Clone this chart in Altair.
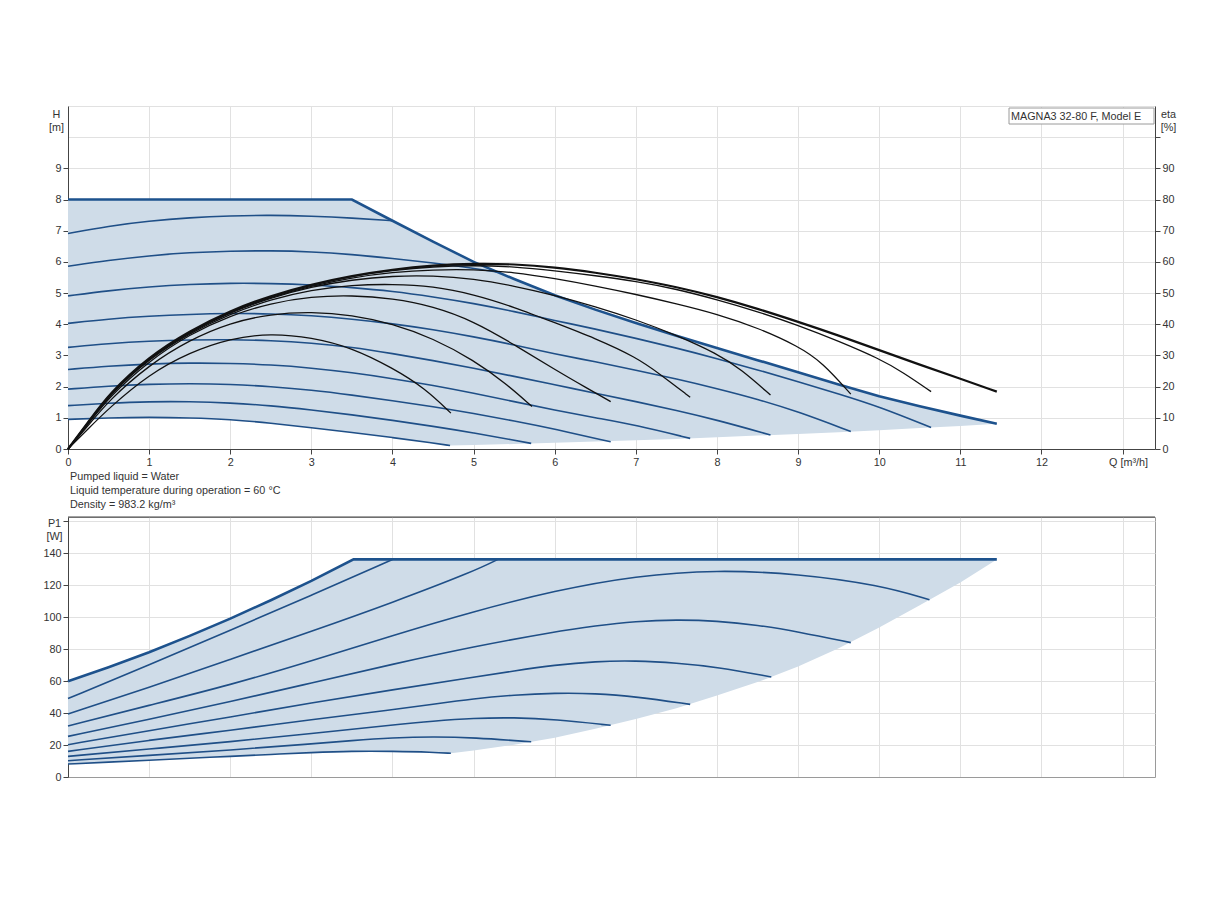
import altair as alt
import pandas as pd

FONT = "Liberation Sans"
FS = 10.8
TXT = "#333333"
BLUE = "#1f4f87"
BLUE_MAX = "#1d528d"
FILL = "#cfdce8"
GRID = "#e1e1e1"
AXIS = "#444444"
CURVE_INTERP = "basis"

# ---------------- tick values / texts ----------------
Q_TICKS = [0, 1, 2, 3, 4, 5, 6, 7, 8, 9, 10, 11, 12, 13]
H_TICKS = [0, 1, 2, 3, 4, 5, 6, 7, 8, 9, 10, 11]
ETA_TICKS = [0, 10, 20, 30, 40, 50, 60, 70, 80, 90, 100, 110]
P_TICKS = [0, 20, 40, 60, 80, 100, 120, 140, 160]
Q_TITLE = "Q [m³/h]"
H_TITLE = ["H", "[m]"]
ETA_TITLE = ["eta", "[%]"]
P_TITLE = ["P1", "[W]"]
LEGEND_TEXT = "MAGNA3 32-80 F, Model E"
NOTES = ["Pumped liquid = Water",
         "Liquid temperature during operation = 60 °C",
         "Density = 983.2 kg/m³"]

# ---------------- H(Q) operating range ----------------
ENV_Q = [0, 0.5, 1, 1.5, 2, 2.5, 3, 3.5, 4, 4.5, 4.71, 5, 5.5, 6, 6.5, 7, 7.5, 8, 8.5, 9, 9.5, 10, 10.5, 11, 11.45]
ENV_H_MAX = [8, 8, 8, 8, 8, 8, 8, 8, 7.32, 6.65, 6.38, 6.0, 5.45, 4.93, 4.47, 4.04, 3.63, 3.24, 2.85, 2.46, 2.07, 1.69, 1.37, 1.07, 0.81]
ENV_H_MIN = [0.95, 1.0, 1.02, 1.0, 0.95, 0.83, 0.68, 0.53, 0.37, 0.19, 0.11, 0.13, 0.16, 0.2, 0.24, 0.28, 0.32, 0.38, 0.43, 0.48, 0.54, 0.6, 0.67, 0.74, 0.81]

# ---------------- H(Q) speed curves ----------------
H_Q_1 = [0, 0.5, 1, 1.5, 2, 2.5, 3, 3.5, 4.0]
H_V_1 = [6.91, 7.15, 7.31, 7.42, 7.48, 7.5, 7.47, 7.41, 7.32]
H_Q_2 = [0, 0.5, 1, 1.5, 2, 2.5, 3, 3.5, 4, 4.5, 5, 5.3]
H_V_2 = [5.86, 6.05, 6.2, 6.3, 6.35, 6.36, 6.33, 6.24, 6.11, 5.97, 5.8, 5.67]
H_Q_3 = [0, 0.5, 1, 1.5, 2, 2.5, 3, 3.5, 4, 4.5, 5, 5.5, 6, 6.5, 7, 7.5, 8, 8.5, 9, 9.5, 10, 10.64]
H_V_3 = [4.91, 5.08, 5.2, 5.28, 5.32, 5.31, 5.27, 5.18, 5.06, 4.88, 4.67, 4.41, 4.12, 3.85, 3.55, 3.24, 2.9, 2.54, 2.16, 1.77, 1.36, 0.69]
H_Q_4 = [0, 0.5, 1, 1.5, 2, 2.5, 3, 3.5, 4, 4.5, 5, 5.5, 6, 6.5, 7, 7.5, 8, 8.5, 9, 9.65]
H_V_4 = [4.03, 4.17, 4.26, 4.32, 4.35, 4.34, 4.28, 4.17, 4.02, 3.83, 3.6, 3.34, 3.05, 2.8, 2.53, 2.25, 1.94, 1.6, 1.2, 0.56]
H_Q_5 = [0, 0.5, 1, 1.5, 2, 2.5, 3, 3.5, 4, 4.5, 5, 5.5, 6, 6.5, 7, 7.5, 8, 8.66]
H_V_5 = [3.26, 3.38, 3.46, 3.5, 3.51, 3.48, 3.4, 3.27, 3.06, 2.84, 2.59, 2.33, 2.06, 1.79, 1.52, 1.24, 0.93, 0.45]
H_Q_6 = [0, 0.5, 1, 1.5, 2, 2.5, 3, 3.5, 4, 4.5, 5, 5.5, 6, 6.5, 7, 7.67]
H_V_6 = [2.55, 2.66, 2.73, 2.76, 2.75, 2.7, 2.6, 2.45, 2.26, 2.04, 1.79, 1.52, 1.25, 1.0, 0.77, 0.34]
H_Q_7 = [0, 0.5, 1, 1.5, 2, 2.5, 3, 3.5, 4, 4.5, 5, 5.5, 6, 6.69]
H_V_7 = [1.92, 2.02, 2.08, 2.1, 2.08, 2.0, 1.89, 1.73, 1.55, 1.36, 1.14, 0.9, 0.64, 0.23]
H_Q_8 = [0, 0.5, 1, 1.5, 2, 2.5, 3, 3.5, 4, 4.5, 5, 5.5, 5.71]
H_V_8 = [1.39, 1.47, 1.52, 1.52, 1.48, 1.39, 1.25, 1.1, 0.92, 0.73, 0.52, 0.28, 0.18]
H_Q_9 = [0, 0.5, 1, 1.5, 2, 2.5, 3, 3.5, 4, 4.5, 4.71]
H_V_9 = [0.95, 1.0, 1.02, 1.0, 0.95, 0.83, 0.68, 0.53, 0.37, 0.19, 0.11]

# ---------------- efficiency curves (eta %) ----------------
E_Q_A = [0, 0.25, 0.5, 1, 1.5, 2, 2.5, 3, 3.5, 4, 4.4, 4.72]
E_V_A = [0, 6.5, 13, 24, 31, 35.5, 37.1, 35.8, 32.5, 26, 19.5, 11.5]
E_Q_B = [0, 0.25, 0.5, 1, 1.5, 2, 2.5, 3, 3.5, 4, 4.5, 5, 5.4, 5.72]
E_V_B = [0, 7.5, 15.5, 27, 35, 40.5, 43.3, 44, 43, 40.2, 35.5, 28.5, 21, 13.6]
E_Q_C = [0, 0.25, 0.5, 1, 1.5, 2, 2.5, 3, 3.5, 4, 4.5, 5, 5.5, 6, 6.4, 6.69]
E_V_C = [0, 8, 16.5, 28.3, 36.8, 42.8, 46.8, 48.9, 49.3, 48.3, 45.8, 41, 33.5, 25.5, 19.5, 15.2]
E_Q_D = [0, 0.25, 0.5, 1, 1.5, 2, 2.5, 3, 3.5, 4, 4.5, 5, 5.5, 6, 6.5, 7, 7.3, 7.67]
E_V_D = [0, 8.3, 17, 29, 37.2, 43.3, 48, 51, 52.6, 52.9, 52.2, 49.6, 45.5, 40.5, 35.5, 29.5, 24, 16.6]
E_Q_E = [0, 0.25, 0.5, 1, 1.5, 2, 2.5, 3, 3.5, 4, 4.5, 5, 5.5, 6, 6.5, 7, 7.5, 8, 8.3, 8.66]
E_V_E = [0, 8.4, 17.3, 29.3, 37.5, 43.8, 48.5, 52, 54.3, 55.5, 55.6, 54.6, 52.3, 49.3, 45.7, 41.5, 36.5, 30.6, 25.5, 17.3]
E_Q_F = [0, 0.25, 0.5, 1, 1.5, 2, 2.5, 3, 3.5, 4, 4.5, 5, 5.5, 6, 6.5, 7, 7.5, 8, 8.5, 9, 9.3, 9.65]
E_V_F = [0, 8.5, 17.5, 29.5, 37.6, 44, 48.8, 52.3, 55, 56.7, 57.5, 57.6, 56.7, 54.7, 52.3, 49.6, 46.6, 43.3, 38.9, 33, 27.8, 17.6]
E_Q_G = [0, 0.25, 0.5, 1, 1.5, 2, 2.5, 3, 3.5, 4, 4.5, 5, 5.5, 6, 6.5, 7, 7.5, 8, 8.5, 9, 9.5, 10, 10.3, 10.64]
E_V_G = [0, 8.5, 17.5, 29.5, 37.7, 44.2, 49, 52.6, 55.4, 57.3, 58.5, 58.9, 58.5, 57.2, 55.6, 53.8, 51.3, 47.9, 44.1, 39.7, 34.6, 29, 24.5, 18.4]
E_Q_H = [0, 0.25, 0.5, 1, 1.5, 2, 2.5, 3, 3.5, 4, 4.5, 5, 5.5, 6, 6.5, 7, 7.5, 8, 8.5, 9, 9.5, 10, 10.5, 11, 11.45]
E_V_H = [0, 8.6, 17.6, 29.7, 37.9, 44.4, 49.2, 52.8, 55.6, 57.6, 58.9, 59.5, 59.3, 58.3, 56.6, 54.5, 52, 48.8, 45, 40.8, 36.4, 31.7, 27, 22.6, 18.4]

# ---------------- P1(Q) operating range ----------------
P_ENV_Q = [0, 0.5, 1, 1.5, 2, 2.5, 3, 3.52, 4, 4.5, 4.72, 5, 5.5, 6, 6.5, 7, 7.5, 8, 8.5, 9, 9.5, 10, 10.5, 11, 11.45]
P_ENV_MAX = [59.8, 68.6, 78, 88.2, 99, 110.5, 122.6, 136, 136, 136, 136, 136, 136, 136, 136, 136, 136, 136, 136, 136, 136, 136, 136, 136, 136]
P_ENV_MIN = [8.1, 9.3, 10.5, 11.7, 12.9, 14.1, 15.3, 16.2, 16.1, 15.5, 14.8, 16.6, 20.2, 24.6, 30.1, 36.2, 43, 51, 59.3, 69, 80.4, 93.5, 107.3, 121.5, 136]

# ---------------- P1(Q) speed curves ----------------
P_Q_1 = [0, 1, 2, 3, 4]
P_V_1 = [49, 70, 91.7, 113.5, 136]
P_Q_2 = [0, 1, 2, 3, 4, 5, 5.3]
P_V_2 = [39.4, 56, 73.5, 91, 109, 128.5, 136]
P_Q_3 = [0, 1, 2, 3, 4, 5, 6, 7, 8, 9, 10, 10.62]
P_V_3 = [31.9, 44.8, 57.5, 72.5, 88.5, 103.5, 116.5, 125.8, 129.5, 127, 120, 110.8]
P_Q_4 = [0, 1, 2, 3, 4, 5, 6, 6.5, 7, 7.5, 8, 8.5, 9, 9.65]
P_V_4 = [25.4, 36, 47, 58.8, 70.5, 81.5, 90.8, 94.5, 97.3, 98.3, 97.6, 95, 90.8, 84]
P_Q_5 = [0, 1, 2, 3, 4, 5, 5.5, 6, 6.5, 7, 7.5, 8, 8.67]
P_V_5 = [20.2, 29, 37.5, 46.3, 54.5, 62.3, 66.3, 70, 72.3, 72.7, 71.3, 68.8, 62.5]
P_Q_6 = [0, 1, 2, 3, 4, 4.5, 5, 5.5, 6, 6.5, 7, 7.67]
P_V_6 = [16, 23, 29.2, 35.8, 42, 45.5, 49, 51.3, 52.5, 52.3, 50.2, 45.4]
P_Q_7 = [0, 1, 2, 3, 4, 4.5, 5, 5.5, 6, 6.69]
P_V_7 = [12.9, 17.5, 22, 27.2, 32.5, 35, 36.8, 37.2, 36, 32.3]
P_Q_8 = [0, 1, 2, 3, 3.5, 4, 4.5, 5, 5.71]
P_V_8 = [10.2, 13.5, 16.8, 20.7, 22.8, 24.5, 25.2, 24.6, 22]
P_Q_9 = [0, 0.5, 1, 1.5, 2, 2.5, 3, 3.5, 4, 4.5, 4.72]
P_V_9 = [8.1, 9.3, 10.5, 11.7, 12.9, 14.1, 15.3, 16.2, 16.1, 15.5, 14.8]


def long_frame(pairs):
    rows = []
    for name, qs, vs in pairs:
        for q, v in zip(qs, vs):
            rows.append({"curve": name, "q": q, "v": v})
    return pd.DataFrame(rows)


h_df = long_frame([("h1", H_Q_1, H_V_1), ("h2", H_Q_2, H_V_2), ("h3", H_Q_3, H_V_3),
                   ("h4", H_Q_4, H_V_4), ("h5", H_Q_5, H_V_5), ("h6", H_Q_6, H_V_6),
                   ("h7", H_Q_7, H_V_7), ("h8", H_Q_8, H_V_8), ("h9", H_Q_9, H_V_9)])
eta_df = long_frame([("A", E_Q_A, E_V_A), ("B", E_Q_B, E_V_B), ("C", E_Q_C, E_V_C),
                     ("D", E_Q_D, E_V_D), ("E", E_Q_E, E_V_E), ("F", E_Q_F, E_V_F),
                     ("G", E_Q_G, E_V_G)])
eta_max_df = long_frame([("H", E_Q_H, E_V_H)])
p_df = long_frame([("p1", P_Q_1, P_V_1), ("p2", P_Q_2, P_V_2), ("p3", P_Q_3, P_V_3),
                   ("p4", P_Q_4, P_V_4), ("p5", P_Q_5, P_V_5), ("p6", P_Q_6, P_V_6),
                   ("p7", P_Q_7, P_V_7), ("p8", P_Q_8, P_V_8), ("p9", P_Q_9, P_V_9)])
env_df = pd.DataFrame({"q": ENV_Q, "hi": ENV_H_MAX, "lo": ENV_H_MIN})
penv_df = pd.DataFrame({"q": P_ENV_Q, "hi": P_ENV_MAX, "lo": P_ENV_MIN})
one = pd.DataFrame({"k": [0]})

W, HT, HB = 1087, 343, 260

x_scale = alt.Scale(domain=[0, 13.4], nice=False, zero=False)
h_scale = alt.Scale(domain=[0, 11], nice=False)
eta_scale = alt.Scale(domain=[0, 110], nice=False)
p_scale = alt.Scale(domain=[0, 162.5], nice=False)

x_axis_top = alt.Axis(values=Q_TICKS, labelExpr="datum.value >= 13 ? '' : datum.label",
                      title=Q_TITLE, titleX=1060, titleY=7, titleAlign="center",
                      titleBaseline="top")
x_axis_bot = alt.Axis(values=Q_TICKS, labels=False, ticks=False, title="",
                      domainColor="#9a9a9a")
h_axis = alt.Axis(values=H_TICKS, labelExpr="datum.value >= 10 ? '' : datum.label",
                  tickOpacity={"condition": {"test": "datum.value >= 10", "value": 0}, "value": 1},
                  title=H_TITLE, titleAngle=0, titleX=-12, titleY=2, titleAlign="center",
                  titleBaseline="top", titleLineHeight=13.5)
eta_axis = alt.Axis(orient="right", values=ETA_TICKS, grid=False,
                    labelExpr="datum.value >= 100 ? '' : datum.label",
                    tickOpacity={"condition": {"test": "datum.value > 100", "value": 0}, "value": 1},
                    title=ETA_TITLE, titleAngle=0, titleX=13, titleY=2, titleAlign="center",
                    titleBaseline="top", titleLineHeight=13.5)
p_axis = alt.Axis(values=P_TICKS, labelExpr="datum.value >= 160 ? '' : datum.label",
                  title=P_TITLE, titleAngle=0, titleX=-14, titleY=0, titleAlign="center",
                  titleBaseline="top", titleLineHeight=13.5)

xq_top = alt.X("q:Q", scale=x_scale, axis=x_axis_top)
xq_bot = alt.X("q:Q", scale=x_scale, axis=x_axis_bot)

# ---------------- top chart ----------------
area_top = alt.Chart(env_df).mark_area(color=FILL, opacity=1, interpolate="linear").encode(
    x=xq_top, y=alt.Y("hi:Q", scale=h_scale, axis=h_axis), y2=alt.Y2("lo:Q"))
lines_h = alt.Chart(h_df).mark_line(color=BLUE, strokeWidth=1.6, interpolate=CURVE_INTERP).encode(
    x=xq_top, y=alt.Y("v:Q", scale=h_scale, axis=h_axis), detail="curve:N")
max_h = alt.Chart(env_df).mark_line(color=BLUE_MAX, strokeWidth=2.6, interpolate="linear").encode(
    x=xq_top, y=alt.Y("hi:Q", scale=h_scale, axis=h_axis))
box = alt.Chart(one).mark_rect(fill="white", stroke="#9a9a9a", strokeWidth=1).encode(
    x=alt.value(941), x2=alt.value(1086), y=alt.value(2), y2=alt.value(18))
box_text = alt.Chart(one).mark_text(align="left", baseline="alphabetic", font=FONT,
                                    fontSize=FS, color=TXT).encode(
    x=alt.value(943), y=alt.value(14), text=alt.value(LEGEND_TEXT))
left_group = alt.layer(area_top, lines_h, max_h, box, box_text)

lines_eta = alt.Chart(eta_df).mark_line(color="#111111", strokeWidth=1.3, interpolate=CURVE_INTERP).encode(
    x=xq_top, y=alt.Y("v:Q", scale=eta_scale, axis=eta_axis), detail="curve:N")
line_eta_max = alt.Chart(eta_max_df).mark_line(color="#111111", strokeWidth=2.2, interpolate=CURVE_INTERP).encode(
    x=xq_top, y=alt.Y("v:Q", scale=eta_scale, axis=eta_axis), detail="curve:N")
right_group = alt.layer(lines_eta, line_eta_max)

top = alt.layer(left_group, right_group).resolve_scale(y="independent").properties(
    width=W, height=HT, view=alt.ViewBackground(strokeOpacity=0))

# ---------------- bottom chart ----------------
area_bot = alt.Chart(penv_df).mark_area(color=FILL, opacity=1, interpolate="linear").encode(
    x=xq_bot, y=alt.Y("hi:Q", scale=p_scale, axis=p_axis), y2=alt.Y2("lo:Q"))
lines_p = alt.Chart(p_df).mark_line(color=BLUE, strokeWidth=1.6, interpolate=CURVE_INTERP).encode(
    x=xq_bot, y=alt.Y("v:Q", scale=p_scale, axis=p_axis), detail="curve:N")
max_p = alt.Chart(penv_df).mark_line(color=BLUE_MAX, strokeWidth=2.6, interpolate="linear").encode(
    x=xq_bot, y=alt.Y("hi:Q", scale=p_scale, axis=p_axis))
top_rule = alt.Chart(one).mark_rule(color=AXIS, strokeWidth=1).encode(
    x=alt.value(0), x2=alt.value(W), y=alt.value(0))

bottom = alt.layer(area_bot, lines_p, max_p, top_rule).properties(
    width=W, height=HB,
    title=alt.TitleParams(text=NOTES, anchor="start", frame="group", font=FONT, fontSize=FS,
                          fontWeight="normal", color=TXT, lineHeight=14, offset=5, dx=2))

chart = alt.vconcat(top, bottom, spacing=3).properties(
    padding={"left": 34, "top": 92, "right": 5, "bottom": 5}
).configure_axis(
    labelFont=FONT, labelFontSize=FS, labelColor=TXT, titleFont=FONT, titleFontSize=FS,
    titleFontWeight="normal", titleColor=TXT, gridColor=GRID, gridWidth=1,
    domainColor=AXIS, tickColor=AXIS, tickSize=5, labelPadding=2, labelFlush=False,
    labelOverlap=False
).configure_view(stroke="#9a9a9a", strokeWidth=1)

chart.save("out.html", embed_options={"renderer": "svg", "actions": False})
